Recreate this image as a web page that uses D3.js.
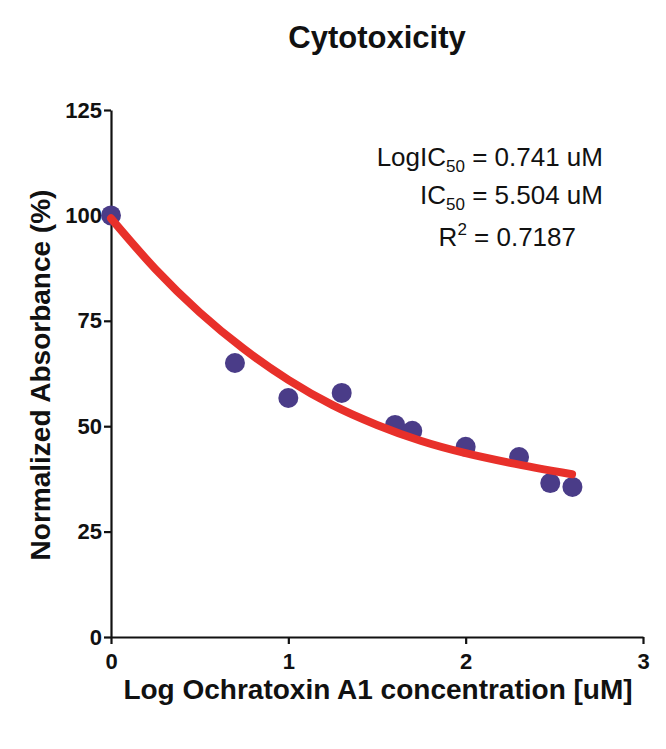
<!DOCTYPE html>
<html>
<head>
<meta charset="utf-8">
<script src="https://cdn.jsdelivr.net/npm/d3@7"></script>
<style>
  html, body { margin: 0; padding: 0; background: #fff; }
  svg { display: block; font-family: "Liberation Sans", Arial, sans-serif; }
</style>
</head>
<body>
<svg id="chart" width="666" height="749"></svg>
<script>
// Data
const logConc = [0, 0.699, 1, 1.301, 1.602, 1.699, 2, 2.301, 2.477, 2.602];
const absorbance = [100, 65.0, 56.7, 57.9, 50.3, 48.9, 45.1, 42.7, 36.5, 35.6];
// Fitted curve
const fitX = [0, 0.25, 0.5, 0.75, 1.0, 1.25, 1.5, 1.75, 2.0, 2.25, 2.6];
const fitY = [99.3, 87.3, 77.0, 68.3, 61.0, 55.0, 50.3, 46.5, 43.6, 41.3, 38.6];
const xTicks = [0, 1, 2, 3];
const yTicks = [0, 25, 50, 75, 100, 125];

const svg = d3.select("#chart");
const x = d3.scaleLinear().domain([0, 3]).range([111, 643]);
const y = d3.scaleLinear().domain([0, 125]).range([637, 110]);

// Axes
const yAxis = svg.append("g").attr("transform", `translate(${x(0)},0)`)
  .call(d3.axisLeft(y).tickValues(yTicks).tickFormat(d3.format("d")).tickSize(7).tickPadding(2).tickSizeOuter(0));
const xAxis = svg.append("g").attr("transform", `translate(0,${y(0)})`)
  .call(d3.axisBottom(x).tickValues(xTicks).tickFormat(d3.format("d")).tickSize(7).tickPadding(9).tickSizeOuter(0));
[xAxis, yAxis].forEach(g => {
  g.selectAll("path, line").attr("stroke", "#111").attr("stroke-width", 2.2);
  g.selectAll("text").attr("fill", "#111").attr("font-size", 22).attr("font-weight", "bold")
    .attr("font-family", "'Liberation Sans', Arial, sans-serif");
});

// Points
svg.append("g").selectAll("circle")
  .data(logConc.map((d, i) => [d, absorbance[i]]))
  .join("circle")
  .attr("cx", d => x(d[0])).attr("cy", d => y(d[1])).attr("r", 10)
  .attr("fill", "#4a3c88");

// Fit curve
const line = d3.line().x(d => x(d[0])).y(d => y(d[1])).curve(d3.curveMonotoneX);
svg.append("path")
  .datum(fitX.map((d, i) => [d, fitY[i]]))
  .attr("d", line)
  .attr("fill", "none").attr("stroke", "#e8302a").attr("stroke-width", 8)
  .attr("stroke-linecap", "round");

// Title
svg.append("text").attr("x", 377).attr("y", 48).attr("text-anchor", "middle")
  .attr("font-size", 31).attr("font-weight", "bold").attr("fill", "#111").text("Cytotoxicity");

// Axis titles
svg.append("text").attr("x", 378).attr("y", 699).attr("text-anchor", "middle")
  .attr("font-size", 28).attr("font-weight", "bold").attr("fill", "#111")
  .text("Log Ochratoxin A1 concentration [uM]");
svg.append("text").attr("transform", "translate(50,375) rotate(-90)").attr("text-anchor", "middle")
  .attr("font-size", 28).attr("font-weight", "bold").attr("fill", "#111")
  .text("Normalized Absorbance (%)");

// Annotation
const ann = svg.append("g").attr("font-size", 26).attr("fill", "#111");
const t1 = ann.append("text").attr("x", 603).attr("y", 166).attr("text-anchor", "end");
t1.append("tspan").text("LogIC");
t1.append("tspan").attr("font-size", 17).attr("dy", 6).text("50");
t1.append("tspan").attr("dy", -6).text(" = 0.741 uM");
const t2 = ann.append("text").attr("x", 603).attr("y", 204).attr("text-anchor", "end");
t2.append("tspan").text("IC");
t2.append("tspan").attr("font-size", 17).attr("dy", 6).text("50");
t2.append("tspan").attr("dy", -6).text(" = 5.504 uM");
const t3 = ann.append("text").attr("x", 576).attr("y", 246).attr("text-anchor", "end");
t3.append("tspan").text("R");
t3.append("tspan").attr("font-size", 17).attr("dy", -11).text("2");
t3.append("tspan").attr("dy", 11).text(" = 0.7187");
</script>
</body>
</html>
